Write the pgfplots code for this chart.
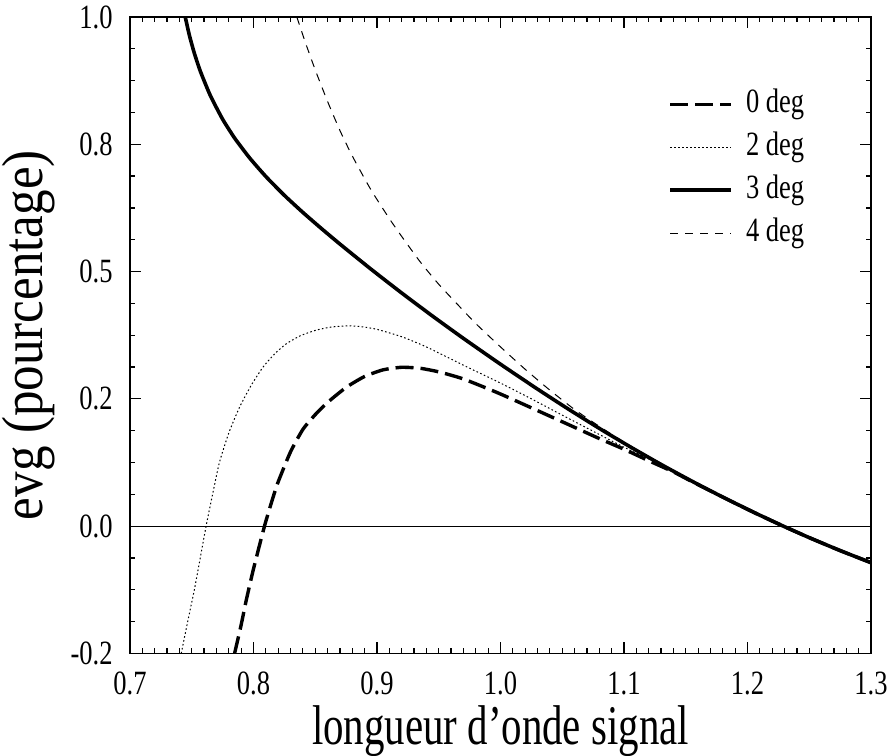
\documentclass[border=0pt]{standalone}
\usepackage{fontspec}
\setmainfont{Liberation Serif}[FakeStretch=0.78]
\newfontfamily\xlabfont{Liberation Serif}[FakeStretch=0.73]
\newfontfamily\ylabfont{Liberation Serif}[FakeStretch=0.88]
\usepackage{pgfplots}
\usepackage{pgfplotstable}
\pgfplotsset{compat=1.18}

% evg versus signal wavelength, one table per angle
\pgfplotstableread{
x y
0.7846 -0.251
0.790 -0.194
0.794 -0.147
0.800 -0.084
0.8089 0.000
0.815 0.050
0.820 0.087
0.830 0.146
0.840 0.190
0.850 0.219
0.860 0.243
0.875 0.2725
0.890 0.294
0.905 0.307
0.920 0.312
0.935 0.310
0.950 0.303
0.970 0.289
1.000 0.2595
1.050 0.205
1.080 0.172
1.100 0.151
1.120 0.1285
1.140 0.1065
1.155 0.0875
1.180 0.0570
1.205 0.0272
1.229 0.0
1.250 -0.0226
1.275 -0.0480
1.300 -0.0718
}\degzero

\pgfplotstableread{
x y
0.7415 -0.250
0.7465 -0.190
0.7522 -0.124
0.7570 -0.061
0.7616 0.000
0.767 0.064
0.7724 0.125
0.780 0.183
0.7886 0.233
0.798 0.276
0.8076 0.312
0.817 0.338
0.8265 0.358
0.838 0.374
0.8508 0.385
0.863 0.391
0.8765 0.3935
0.888 0.3915
0.900 0.3865
0.920 0.372
0.940 0.352
0.970 0.316
1.000 0.281
1.025 0.250
1.050 0.218
1.080 0.180
1.100 0.155
1.120 0.132
1.140 0.108
1.155 0.0883
1.180 0.0570
1.205 0.0272
1.229 0.0
1.250 -0.0226
1.275 -0.0480
1.300 -0.0718
}\degtwo

\pgfplotstableread{
x y
0.7446 1.0016
0.748 0.9649
0.752 0.9297
0.757 0.8932
0.765 0.846
0.775 0.7992
0.785 0.7612
0.797 0.7228
0.810 0.6867
0.825 0.6497
0.840 0.6161
0.855 0.5845
0.870 0.5540
0.895 0.5050
0.920 0.4579
0.945 0.4125
0.970 0.3687
1.000 0.3180
1.030 0.2691
1.055 0.2298
1.080 0.1920
1.105 0.1558
1.130 0.1212
1.155 0.0883
1.180 0.0570
1.205 0.0272
1.229 0.0
1.250 -0.0226
1.275 -0.0480
1.300 -0.0718
}\degthree

\pgfplotstableread{
x y
0.8351 1.000
0.842 0.950
0.850 0.896
0.860 0.834
0.870 0.777
0.880 0.727
0.895 0.661
0.910 0.604
0.920 0.569
0.935 0.519
0.950 0.475
0.965 0.436
0.980 0.3978
1.000 0.352
1.020 0.308
1.040 0.267
1.060 0.229
1.080 0.196
1.100 0.165
1.120 0.136
1.130 0.1212
1.155 0.0883
1.180 0.0570
1.205 0.0272
1.229 0.0
1.250 -0.0226
1.275 -0.0480
1.300 -0.0718
}\degfour

\begin{document}
\begin{tikzpicture}
\path[use as bounding box] (-65pt,-50.85pt) rectangle (379pt,326.7pt);
\begin{axis}[
  at={(0pt,0pt)}, anchor=south west,
  scale only axis, width=370.5pt, height=318.2pt,
  xmin=0.7, xmax=1.3, ymin=-0.25, ymax=1.0,
  axis line style={line width=0.8pt},
  tick style={line width=0.6pt, black},
  tick align=inside, xtick pos=both, ytick pos=both,
  xtick={0.7,0.8,0.9,1.0,1.1,1.2,1.3},
  xticklabels={0.7,0.8,0.9,1.0,1.1,1.2,1.3},
  ytick={-0.25,0,0.25,0.5,0.75,1},
  yticklabels={-0.2,0.0,0.2,0.5,0.8,1.0},
  minor x tick num=9, minor y tick num=3,
  major tick length=5.5pt, minor tick length=2.7pt,
  /pgf/number format/assume math mode=true,
  ticklabel style={font=\fontsize{17}{17}\selectfont, inner sep=0pt},
  yticklabel style={anchor=east, xshift=-8.5pt},
  xticklabel style={anchor=north, yshift=-9pt},
  xlabel={\xlabfont\fontsize{28}{28}\selectfont longueur d’onde signal},
  ylabel={\ylabfont\fontsize{29}{29}\selectfont evg (pourcentage)},
  xlabel style={at={(axis description cs:0.5,0)}, anchor=base, yshift=-45.3pt, inner sep=0pt},
  ylabel style={at={([xshift=-43.5pt]axis description cs:0,0.5)}, anchor=base, inner sep=0pt},
  legend style={draw=none, fill=none, at={(axis description cs:0.718,0.895)}, anchor=north west,
    font=\fontsize{17}{17}\selectfont, row sep=5.5pt, column sep=6.5pt,
    nodes={inner sep=0pt, text height=12pt, text depth=4pt}},
  legend cell align=left,
  legend image code/.code={\draw[#1] (0pt,0pt) -- (30.5pt,0pt);},
  every axis plot/.append style={black},
]
\addplot[line width=1.7pt, dash pattern=on 9pt off 3.5pt, smooth, tension=0.35] table {\degzero};
\addlegendentry{0 deg}
\addplot[line width=0.5pt, dash pattern=on 0.8pt off 1.2pt, smooth, tension=0.35] table {\degtwo};
\addlegendentry{2 deg}
\addplot[line width=1.8pt, smooth, tension=0.35] table {\degthree};
\addlegendentry{3 deg}
\addplot[line width=0.5pt, dash pattern=on 4pt off 3.5pt, smooth, tension=0.35] table {\degfour};
\addlegendentry{4 deg}
\addplot[line width=0.6pt, forget plot] coordinates {(0.7,0) (1.3,0)};
\end{axis}
\end{tikzpicture}
\end{document}
